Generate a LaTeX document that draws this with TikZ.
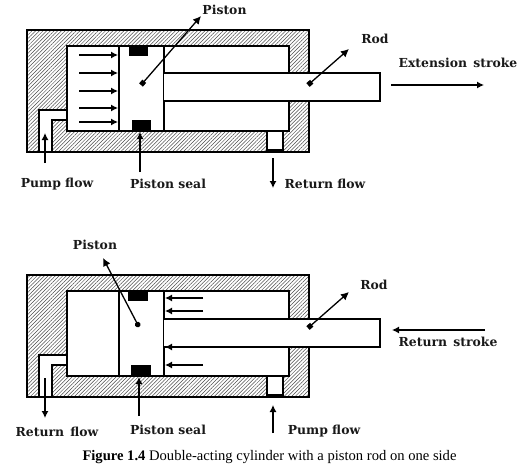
\documentclass[tikz,border=0pt]{standalone}
\usepackage{fontspec}
\setmainfont{Liberation Serif}
\newfontfamily\lblfont{DejaVu Serif}[BoldFont={DejaVu Serif Bold}]
\usetikzlibrary{patterns.meta,arrows.meta}
\tikzset{
  x=1pt,y=-1pt,
  hatched/.style={pattern={Lines[angle=45,distance=2.6pt,line width=.5pt]},pattern color=black!70},
  wall/.style={draw=black,line width=1.6pt,line join=miter},
  lbl/.style={font=\lblfont\bfseries\fontsize{12.4}{14}\selectfont,inner sep=0pt,text=black!90},
  flow/.style={draw=black,line width=1.2pt,-{Latex[length=7pt,width=7pt]}},
  pointer/.style={draw=black,line width=1.3pt,{Square[length=5pt,width=5pt]}-{Latex[length=8pt,width=8pt]}},
  roundptr/.style={draw=black,line width=1.3pt,{Circle[length=5.5pt,width=5.5pt]}-{Latex[length=8pt,width=8pt]}}
}
\newcommand{\cyl}[1]{%
  \begin{scope}[yshift=-#1pt]
    \fill[white] (27,30) rectangle (309,152);
    \fill[hatched] (27,30) rectangle (309,152);
    \fill[white] (67,46) rectangle (289,131);
    \fill[white] (39,152) -- (39,110) -- (67,110) -- (67,120) -- (52,120) -- (52,152) -- cycle;
    \fill[white] (267,131) rectangle (283,150);
    \draw[wall] (27,30) rectangle (309,152);
    \draw[wall] (289,73) -- (289,46) -- (67,46) -- (67,131) -- (289,131) -- (289,101);
    \draw[wall] (39,152) -- (39,110) -- (67,110);
    \draw[wall] (52,152) -- (52,120) -- (67,120);
    \draw[wall] (267,131) -- (267,150) -- (283,150) -- (283,131);
    \draw[wall] (119,46) -- (119,131);
    \draw[wall] (164,46) -- (164,131);
  \end{scope}
}
\begin{document}
\begin{tikzpicture}
\useasboundingbox (0,0) rectangle (532,471);
\fill[white] (0,0) rectangle (532,471);

% ===== upper cylinder =====
\cyl{0}
\fill[white] (164,73) rectangle (380,101);
\draw[wall] (164,73) -- (380,73) -- (380,101) -- (164,101);
\fill (129,46) rectangle (148,56);
\fill (132,120) rectangle (151,131);

\foreach \n/\y in {a/55,b/73,c/91,d/108,e/122}{
  \coordinate (u\n s) at (79,\y);
  \coordinate (u\n t) at (118,\y);
  \draw[flow] (u\n s) -- (u\n t);
}
\node[lbl] (uPiston) at (224.5,10) {Piston};
\node[lbl] (uRod) at (375,39) {Rod};
\node[lbl] (uExt) at (458,63) {Extension\hspace{2pt} stroke};
\node[lbl] (uPump) at (57,184) {Pump flow};
\node[lbl] (uSeal) at (168,184) {Piston seal};
\node[lbl] (uRet) at (325,184) {Return flow};
\coordinate (uPd) at (141,85);
\coordinate (uPe) at (201,16);
\coordinate (uRd) at (308,85);
\coordinate (uRe) at (349,49);
\draw[pointer] (uPd) -- (uPe);
\draw[pointer] (uRd) -- (uRe);
\coordinate (uXs) at (391,85);
\coordinate (uXe) at (484,85);
\draw[flow] (uXs) -- (uXe);
\coordinate (uFs) at (273,158);
\coordinate (uFe) at (273,188);
\draw[flow] (uFs) -- (uFe);
\coordinate (uGs) at (45,163);
\coordinate (uGe) at (45,133);
\draw[flow] (uGs) -- (uGe);
\coordinate (uSs) at (140,172);
\coordinate (uSe) at (140,132);
\draw[flow] (uSs) -- (uSe);

% ===== lower cylinder =====
\cyl{245}
\fill[white] (164,319) rectangle (380,347);
\draw[wall] (164,319) -- (380,319) -- (380,347) -- (164,347);
\fill (128,291) rectangle (148,301);
\fill (131,365) rectangle (151,376);

\foreach \n/\y in {a/298,b/311,c/347,d/365}{
  \coordinate (l\n s) at (203,\y);
  \coordinate (l\n t) at (165,\y);
  \draw[flow] (l\n s) -- (l\n t);
}
\node[lbl] (lPiston) at (95,245) {Piston};
\node[lbl] (lRod) at (374,285) {Rod};
\node[lbl] (lRts) at (448,342) {Return\hspace{2pt} stroke};
\node[lbl] (lRet) at (57,432) {Return\hspace{2pt} flow};
\node[lbl] (lSeal) at (168,430) {Piston seal};
\node[lbl] (lPump) at (324,431) {Pump flow};
\coordinate (lPd) at (139,327);
\coordinate (lPe) at (103,258);
\coordinate (lRd) at (308,328);
\coordinate (lRe) at (349,292);
\draw[roundptr] (lPd) -- (lPe);
\draw[pointer] (lRd) -- (lRe);
\coordinate (lXs) at (485,330);
\coordinate (lXe) at (392,330);
\draw[flow] (lXs) -- (lXe);
\coordinate (lFs) at (45,378);
\coordinate (lFe) at (45,418);
\draw[flow] (lFs) -- (lFe);
\coordinate (lSs) at (139,416);
\coordinate (lSe) at (139,377);
\draw[flow] (lSs) -- (lSe);
\coordinate (lGs) at (273,433);
\coordinate (lGe) at (273,405);
\draw[flow] (lGs) -- (lGe);

% ===== caption =====
\node[inner sep=0pt,font=\fontsize{14.6}{16}\selectfont] (cap) at (269.5,457) {\textbf{Figure 1.4} Double-acting cylinder with a piston rod on one side};
\end{tikzpicture}
\end{document}
